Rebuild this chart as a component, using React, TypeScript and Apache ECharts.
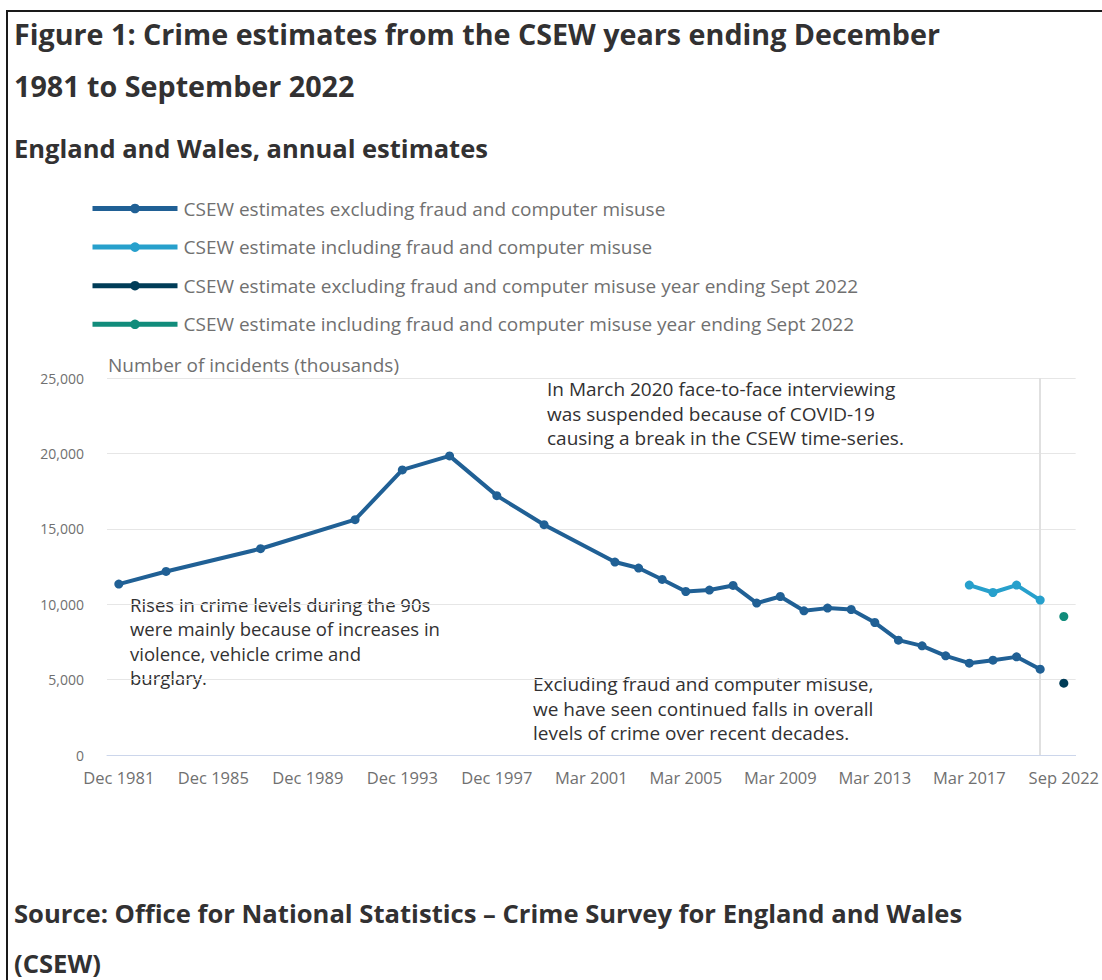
import React, { useEffect, useRef } from "react";
import * as echarts from "echarts";

const categories: string[] = [
  "Dec 1981", "Dec 1982", "Dec 1983", "Dec 1984", "Dec 1985", "Dec 1986", "Dec 1987", "Dec 1988",
  "Dec 1989", "Dec 1990", "Dec 1991", "Dec 1992", "Dec 1993", "Dec 1994", "Dec 1995", "Dec 1996",
  "Dec 1997", "Dec 1998", "Dec 1999", "Dec 2000", "Mar 2001", "Mar 2002", "Mar 2003", "Mar 2004",
  "Mar 2005", "Mar 2006", "Mar 2007", "Mar 2008", "Mar 2009", "Mar 2010", "Mar 2011", "Mar 2012",
  "Mar 2013", "Mar 2014", "Mar 2015", "Mar 2016", "Mar 2017", "Mar 2018", "Mar 2019", "Mar 2020",
  "Sep 2022",
];

// thousands of incidents
const excludingFraud: (number | null)[] = [
  11335, null, 12171, null, null, null, 13679, null,
  null, null, 15604, null, 18904, null, 19834, null,
  17198, null, 15272, null, null, 12795, 12397, 11640,
  10843, 10936, 11242, 10073, 10511, 9562, 9740, 9648,
  8785, 7616, 7238, 6574, 6089, 6288, 6507, 5690,
  null,
];

const includingFraud: (number | null)[] = [
  ...new Array(36).fill(null), 11268, 10777, 11268, 10272, null,
];

const excludingSep2022: (number | null)[] = [...new Array(40).fill(null), 4761];
const includingSep2022: (number | null)[] = [...new Array(40).fill(null), 9183];

const seriesNames = [
  "CSEW estimates excluding fraud and computer misuse",
  "CSEW estimate including fraud and computer misuse",
  "CSEW estimate excluding fraud and computer misuse year ending Sept 2022",
  "CSEW estimate including fraud and computer misuse year ending Sept 2022",
];
const seriesColors = ["#206095", "#27a0cc", "#003c57", "#118c7b"];

const titleLines = [
  "Figure 1: Crime estimates from the CSEW years ending December",
  "1981 to September 2022",
];
const subtitle = "England and Wales, annual estimates";
const sourceLines = [
  "Source: Office for National Statistics \u2013 Crime Survey for England and Wales",
  "(CSEW)",
];
const yAxisName = "Number of incidents (thousands)";
const note90s = "Rises in crime levels during the 90s\nwere mainly because of increases in\nviolence, vehicle crime and\nburglary.";
const noteCovid = "In March 2020 face-to-face interviewing\nwas suspended because of COVID-19\ncausing a break in the CSEW time-series.";
const noteFalls = "Excluding fraud and computer misuse,\nwe have seen continued falls in overall\nlevels of crime over recent decades.";

const FONT = "'Open Sans', sans-serif";

export default function App() {
  const ref = useRef<HTMLDivElement>(null);
  useEffect(() => {
    if (!ref.current) return;
    const chart = echarts.init(ref.current, undefined, { renderer: "svg" });
    const dataSets = [excludingFraud, includingFraud, excludingSep2022, includingSep2022];
    const series: any[] = dataSets.map((d, i) => ({
      name: seriesNames[i],
      type: "line",
      data: d,
      connectNulls: true,
      symbol: "circle",
      symbolSize: 9,
      showSymbol: true,
      lineStyle: { width: 4, color: seriesColors[i] },
      itemStyle: { color: seriesColors[i] },
      emphasis: { disabled: true },
      z: 3,
    }));
    series[0].markLine = {
      silent: true,
      symbol: "none",
      label: { show: false },
      lineStyle: { color: "#e0e0e0", width: 2, type: "solid" },
      data: [{ xAxis: "Mar 2020" }],
      z: 1,
    };
    const textStyleBase = { fontFamily: FONT, fill: "#323132" };
    chart.setOption({
      animation: false,
      textStyle: { fontFamily: FONT },
      grid: { left: 107, right: 24, top: 378, bottom: 225, containLabel: false },
      legend: {
        orient: "vertical",
        left: 85,
        top: 194,
        itemWidth: 85,
        itemHeight: 12,
        itemGap: 19.6,
        lineStyle: { width: 5 },
        textStyle: { fontSize: 19, color: "#707070", fontFamily: FONT, padding: [0, 0, 0, 1] },
        data: seriesNames,
        selectedMode: false,
      },
      xAxis: {
        type: "category",
        data: categories,
        boundaryGap: true,
        axisLine: { lineStyle: { color: "#ccd6eb", width: 1 } },
        axisTick: { alignWithLabel: true, interval: 3, length: 10, lineStyle: { color: "#ccd6eb" } },
        axisLabel: { interval: 3, color: "#707070", fontSize: 16.5, margin: 14, fontFamily: FONT },
      },
      yAxis: {
        type: "value",
        min: 0,
        max: 25000,
        interval: 5000,
        axisLine: { show: false },
        axisTick: { show: false },
        splitLine: { lineStyle: { color: "#e6e6e6", width: 1 } },
        axisLabel: {
          color: "#707070",
          fontSize: 14,
          margin: 23,
          fontFamily: FONT,
          formatter: (v: number) => v.toLocaleString("en-GB"),
        },
      },
      graphic: [
        { type: "text", left: 14, top: 19, style: { ...textStyleBase, text: titleLines[0], fontSize: 28.7, fontWeight: "bold" } },
        { type: "text", left: 14, top: 71, style: { ...textStyleBase, text: titleLines[1], fontSize: 28.7, fontWeight: "bold" } },
        { type: "text", left: 14, top: 135, style: { ...textStyleBase, text: subtitle, fontSize: 25.5, fontWeight: "bold" } },
        { type: "text", left: 14, top: 900, style: { ...textStyleBase, text: sourceLines[0], fontSize: 25.6, fontWeight: "bold" } },
        { type: "text", left: 14, top: 950, style: { ...textStyleBase, text: sourceLines[1], fontSize: 25.6, fontWeight: "bold" } },
        { type: "text", left: 108, top: 355, style: { fontFamily: FONT, fill: "#707070", text: yAxisName, fontSize: 19 } },
        { type: "text", left: 130, top: 592, style: { fontFamily: FONT, fill: "#323132", text: note90s, fontSize: 18.5, lineHeight: 24.5 } },
        { type: "text", left: 547, top: 377, style: { fontFamily: FONT, fill: "#323132", text: noteCovid, fontSize: 19, lineHeight: 24.5 } },
        { type: "text", left: 533, top: 672, style: { fontFamily: FONT, fill: "#323132", text: noteFalls, fontSize: 19, lineHeight: 24.5 } },
      ],
      series,
    });
    return () => chart.dispose();
  }, []);
  return (
    <div style={{ position: "fixed", left: 0, top: 0, width: 1102, height: 980, background: "#fff", overflow: "hidden" }}>
      <div style={{ position: "absolute", left: 6, top: 10, width: 1200, height: 1100, border: "2px solid #1a1a1a" }} />
      <div ref={ref} style={{ position: "absolute", left: 0, top: 0, width: 1102, height: 980 }} />
    </div>
  );
}
